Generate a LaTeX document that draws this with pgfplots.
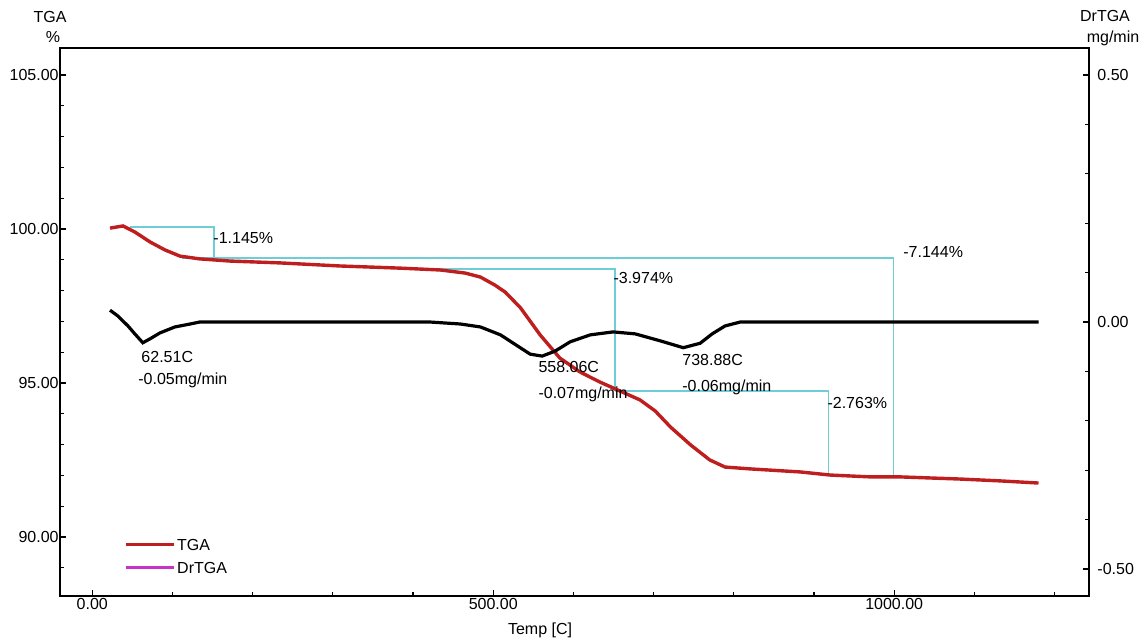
\documentclass[border=0pt]{standalone}
\usepackage{fontspec}
\setmainfont{Liberation Sans}
\usepackage{pgfplots}
\pgfplotsset{compat=1.18}
\definecolor{tgared}{RGB}{190,30,30}
\definecolor{stepcyan}{RGB}{110,205,215}
\definecolor{drmag}{RGB}{200,50,200}
\begin{document}
\begin{tikzpicture}[font=\fontsize{8}{9.6}\selectfont]
\begin{axis}[
  name=main,
  scale only axis, width=514.5pt, height=274pt,
  xmin=-40.3, xmax=1243, ymin=88.08, ymax=105.88,
  xtick={0,500,1000},
  minor xtick={100,200,300,400,600,700,800,900,1100,1200},
  ytick={90,95,100,105},
  minor ytick={89,91,92,93,94,96,97,98,99,101,102,103,104},
  xtick pos=lower, ytick pos=left, tick align=inside,
  major tick length=3pt, minor tick length=2pt,
  every tick/.style={black, line width=0.6pt},
  axis line style={line width=0.8pt},
  tick label style={font=\fontsize{8}{9.6}\selectfont},
  xticklabel style={inner ysep=1pt},
  yticklabel style={inner xsep=0.5pt},
  /pgf/number format/.cd, fixed, fixed zerofill, precision=2, 1000 sep={}, assume math mode=true, /pgfplots/.cd,
  clip=false,
  legend image code/.code={\draw[#1] (0pt,0pt) -- (24pt,0pt);},
  legend cell align=left,
  legend style={at={(0.062,0.109)}, anchor=north west, draw=none, fill=none,
    inner sep=0pt, row sep=3.5pt, nodes={inner sep=1pt, text height=6pt, text depth=0pt},
    font=\fontsize{8}{9.6}\selectfont},
]
\coordinate (bbsw) at (rel axis cs:-0.0583,-0.0785);
\coordinate (bbne) at (rel axis cs:1.0573,1.0876);
% step annotation lines
\addplot[stepcyan, line width=0.8pt, forget plot] coordinates {(47,100.07) (152,100.07) (152,99.06)};
\addplot[stepcyan, line width=0.8pt, forget plot] coordinates {(112,99.06) (999,99.06) (999,91.95)};
\addplot[stepcyan, line width=0.8pt, forget plot] coordinates {(411,98.70) (652,98.70) (652,94.74)};
\addplot[stepcyan, line width=0.8pt, forget plot] coordinates {(652,94.74) (918,94.74) (918,92.01)};
% TGA curve
\addplot[tgared, line width=1.7pt, forget plot] coordinates {
(22.1,100.03) (38.3,100.10) (53.3,99.90) (72,99.58) (90.7,99.32) (109.4,99.12)
(134,99.03) (171.7,98.96) (234,98.90) (309,98.80) (384,98.73) (434,98.67)
(465,98.57) (484,98.44) (502,98.18) (515,97.95) (534,97.44) (558.5,96.56)
(583,95.81) (608,95.36) (633,95.03) (658,94.74) (683,94.45) (702,94.09)
(721,93.57) (746,92.99) (770,92.50) (789,92.27) (820,92.21) (883,92.11)
(920,92.01) (970,91.95) (1007,91.95) (1082,91.88) (1132,91.82) (1180,91.75)};
\addlegendimage{tgared, line width=1.5pt}
\addlegendentry{TGA}
\addlegendimage{drmag, line width=1.5pt}
\addlegendentry{DrTGA}
% annotation texts
\node[anchor=west, inner sep=0pt] at (axis cs:150.6,99.71) {-1.145\%};
\node[anchor=west, inner sep=0pt] at (axis cs:649.5,98.41) {-3.974\%};
\node[anchor=west, inner sep=0pt] at (axis cs:1011,99.25) {-7.144\%};
\node[anchor=west, inner sep=0pt] at (axis cs:916.4,94.35) {-2.763\%};
\node[anchor=west, inner sep=0pt] at (axis cs:60.8,95.84) {62.51C};
\node[anchor=west, inner sep=0pt] at (axis cs:57,95.07) {-0.05mg/min};
\node[anchor=west, inner sep=0pt] at (axis cs:556,95.52) {558.06C};
\node[anchor=west, inner sep=0pt] at (axis cs:556,94.64) {-0.07mg/min};
\node[anchor=west, inner sep=0pt] at (axis cs:735.4,95.75) {738.88C};
\node[anchor=west, inner sep=0pt] at (axis cs:735.4,94.87) {-0.06mg/min};
% axis titles
\node at (rel axis cs:-0.0097,1.0566) {TGA};
\node at (rel axis cs:-0.0068,1.0201) {\%};
\node at (rel axis cs:1.0155,1.0584) {DrTGA};
\node at (rel axis cs:1.0233,1.0182) {mg/min};
\node at (rel axis cs:0.4665,-0.062) {Temp [C]};
\end{axis}
\begin{axis}[
  scale only axis, width=514.5pt, height=274pt,
  xmin=-40.3, xmax=1243, ymin=-0.5547, ymax=0.5547,
  axis x line=none, axis y line*=right,
  ytick={-0.5,0,0.5},
  minor ytick={-0.4,-0.3,-0.2,-0.1,0.1,0.2,0.3,0.4},
  tick align=inside,
  major tick length=3pt, minor tick length=2pt,
  every tick/.style={black, line width=0.6pt},
  axis line style={-, line width=0.8pt},
  tick label style={font=\fontsize{8}{9.6}\selectfont},
  yticklabel style={inner xsep=4pt},
  /pgf/number format/.cd, fixed, fixed zerofill, precision=2, assume math mode=true, /pgfplots/.cd,
  clip=false,
]
\addplot[black, line width=1.6pt] coordinates {
(22.1,0.024) (32,0.012) (44.5,-0.008) (53,-0.024) (63,-0.042) (72,-0.034)
(84.4,-0.022) (103,-0.010) (122,-0.004) (134,0) (421,0) (459,-0.004)
(484,-0.010) (509,-0.026) (527,-0.045) (546,-0.065) (561,-0.069) (577,-0.059)
(596,-0.040) (621,-0.026) (649.5,-0.020) (677,-0.024) (708,-0.038) (737,-0.052)
(758,-0.043) (773,-0.024) (789,-0.008) (808,0) (1180,0)};
\end{axis}
\pgfresetboundingbox
\useasboundingbox (bbsw) rectangle (bbne);
\end{tikzpicture}
\end{document}
